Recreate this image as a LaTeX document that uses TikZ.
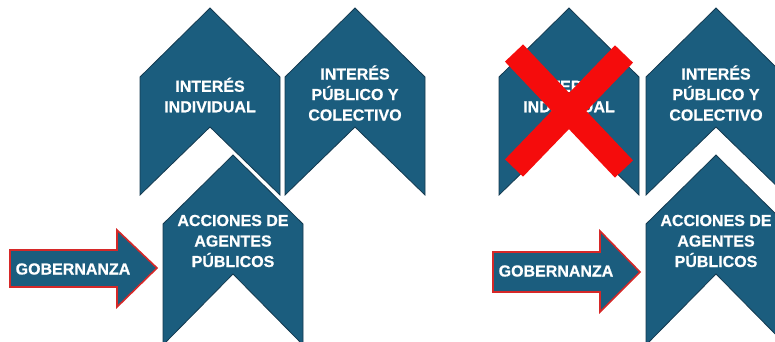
\documentclass[tikz,border=0pt]{standalone}
\usepackage{fontspec}
\setmainfont{Liberation Sans}[BoldFeatures={FakeBold=0.6}]
\usetikzlibrary{positioning}

\definecolor{chevblue}{RGB}{27,93,126}
\definecolor{chevline}{RGB}{20,58,80}
\definecolor{arrowred}{RGB}{214,40,40}
\definecolor{crossred}{RGB}{245,12,12}

\tikzset{
    chev/.style={fill=chevblue, draw=chevline, line width=0.8pt, line join=miter},
    chevtop/.style={chev, preaction={draw=white, line width=4pt}},
    govarrow/.style={fill=chevblue, draw=arrowred, line width=1.6pt},
    lbl/.style={text=white, font=\bfseries\fontsize{16}{20.5}\selectfont, align=center, inner sep=0pt},
    crossbar/.style={draw=crossred, line width=25pt}
}

\begin{document}
\begin{tikzpicture}[x=1pt, y=-1pt]
    \useasboundingbox (0,0) rectangle (775,341);
    \clip (0,0) rectangle (775,341);
    % left half
    \draw [chev] (140,77) -- (210,8) -- (280,77) -- (280,195) -- (210,127) -- (140,195) -- cycle;
    \draw [chev] (285,77) -- (355,8) -- (425,77) -- (425,195) -- (355,127) -- (285,195) -- cycle;
    \draw [chevtop] (163,224) -- (233,155) -- (303,224) -- (303,345) -- (233,274) -- (163,345) -- cycle;
    \path (210, 95) node [lbl] (indiv1) {INTERÉS\\INDIVIDUAL};
    \path (355, 93) node [lbl] (public1) {INTERÉS\\PÚBLICO Y\\COLECTIVO};
    \path (233,241) node [lbl] (acciones1) {ACCIONES DE\\AGENTES\\PÚBLICOS};
    \draw [govarrow] (10,250) -- (117,250) -- (117,230) -- (157,268) -- (117,307) -- (117,287) -- (10,287) -- cycle;
    \path ( 73,269) node [lbl] (gob1) {GOBERNANZA};
    % right half
    \draw [chev] (499,77) -- (569,8) -- (639,77) -- (639,195) -- (569,127) -- (499,195) -- cycle;
    \draw [chev] (646,77) -- (716,8) -- (786,77) -- (786,195) -- (716,127) -- (646,195) -- cycle;
    \draw [chevtop] (646,224) -- (716,155) -- (786,224) -- (786,345) -- (716,274) -- (646,345) -- cycle;
    \path (569, 95) node [lbl] (indiv2) {INTERÉS\\INDIVIDUAL};
    \path (716, 93) node [lbl] (public2) {INTERÉS\\PÚBLICO Y\\COLECTIVO};
    \path (716,241) node [lbl] (acciones2) {ACCIONES DE\\AGENTES\\PÚBLICOS};
    \draw [govarrow] (493,252) -- (600,252) -- (600,231) -- (640,272) -- (600,312) -- (600,292) -- (493,292) -- cycle;
    \path (556,271) node [lbl] (gob2) {GOBERNANZA};
    % cross over the individual interest
    \draw [crossbar] (514,53) -- (624,169);
    \draw [crossbar] (624,54) -- (514,168);
\end{tikzpicture}
\end{document}
